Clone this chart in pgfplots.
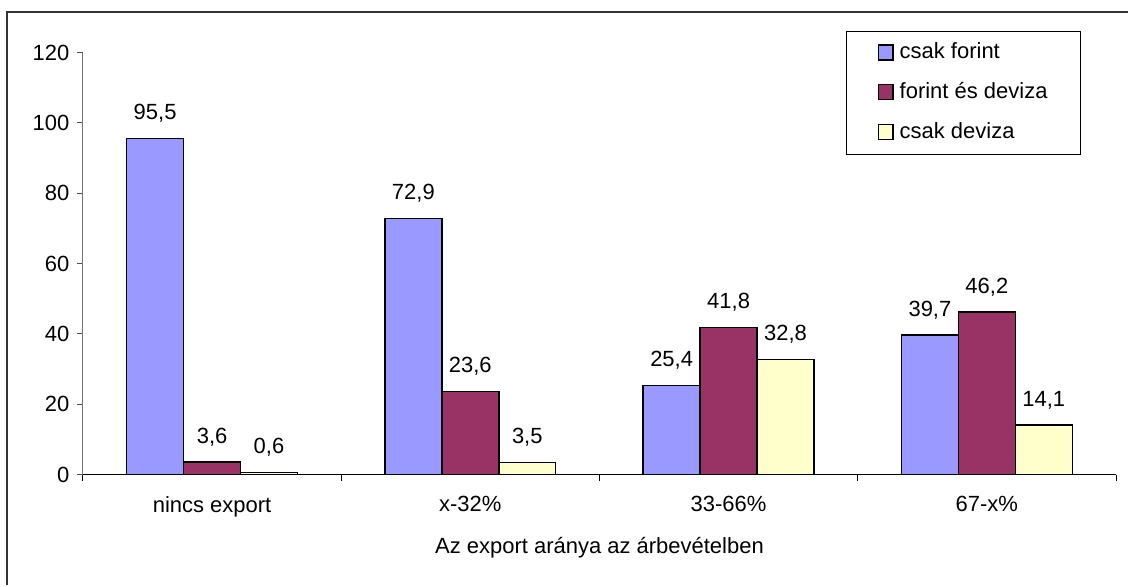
\documentclass[border=0pt]{standalone}
\usepackage{pgfplots}
\pgfplotsset{compat=1.18}
\usepackage{fontspec}
\setmainfont{Liberation Sans}
\definecolor{cblue}{HTML}{9999FF}
\definecolor{cmaroon}{HTML}{993366}
\definecolor{cyellow}{HTML}{FFFFCC}
\newcommand{\fs}{\fontsize{22}{26}\selectfont}
\newcommand{\fl}{\fontsize{22}{26}\selectfont}
\begin{document}
\begin{tikzpicture}
\begin{axis}[
  at={(0pt,0pt)}, anchor=south west,
  scale only axis, width=1034pt, height=422.4pt,
  xmin=-0.5, xmax=3.5, ymin=0, ymax=120,
  ybar=0pt, bar width=57pt,
  axis x line*=bottom, axis y line*=left,
  x axis line style={black, line width=1pt, -},
  y axis line style={black!55, line width=1pt, -},
  xtick={0,1,2,3},
  xticklabels={nincs export, x-32\%, 33-66\%, 67-x\%},
  minor xtick={-0.5,0.5,1.5,2.5,3.5},
  major x tick style={draw=none},
  minor x tick style={black, line width=1pt},
  minor tick length=6pt,
  ytick={0,20,...,120},
  y tick style={black!70, line width=1pt},
  major tick length=6pt,
  tick align=outside,
  ticklabel style={font=\fs},
  /pgf/number format/assume math mode=true,
  yticklabel style={xshift=-4pt},
  xticklabel style={yshift=-12pt},
  xlabel={Az export aránya az árbevételben},
  xlabel style={font=\fs, yshift=-14pt},
  every axis plot/.append style={draw=black, line width=1.4pt},
  nodes near coords,
  nodes near coords style={font=\fs, black, anchor=south, yshift=12pt,
    /pgf/number format/.cd, fixed, fixed zerofill, precision=1, use comma},
  legend style={at={(rel axis cs:0.966,1.051)}, anchor=north east,
    draw=black, line width=0.8pt, font=\fl, inner xsep=31pt, inner ysep=10pt,
    row sep=17pt,
    nodes={text height=15pt, text depth=4pt, inner ysep=2pt},
    /tikz/every odd column/.append style={column sep=4pt}},
  legend cell align=left,
  legend image code/.code={\draw[#1, line width=1.2pt] (0pt,-7pt) rectangle (15pt,8pt);},
]
\addplot[fill=cblue] coordinates {(0,95.5) (1,72.9) (2,25.4) (3,39.7)};
\addplot[fill=cmaroon] coordinates {(0,3.6) (1,23.6) (2,41.8) (3,46.2)};
\addplot[fill=cyellow] coordinates {(0,0.6) (1,3.5) (2,32.8) (3,14.1)};
\legend{csak forint, forint és deviza, csak deviza}
\end{axis}
\draw[line width=2pt, black!80] (-75.5pt,-111pt) -- (-75.5pt,463pt) -- (1046pt,463pt);
\path[use as bounding box] (-83pt,-111pt) rectangle (1046pt,475pt);
\end{tikzpicture}
\end{document}
